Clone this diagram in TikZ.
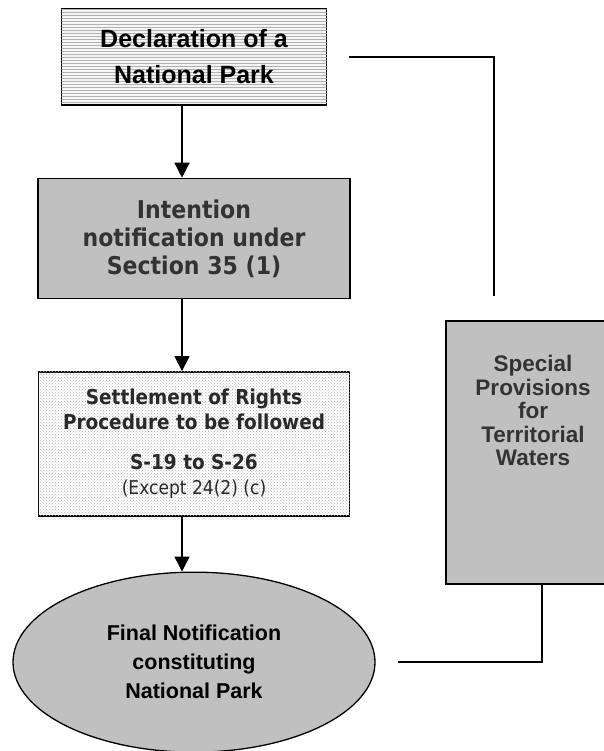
\documentclass[tikz,border=0pt]{standalone}
\usepackage{fontspec}
\newfontfamily\parkfont{Liberation Sans}
\newfontfamily\tahfont[FakeStretch=0.9]{DejaVu Sans}
\usetikzlibrary{positioning,shapes.geometric,patterns,arrows.meta}
\definecolor{boxgrey}{RGB}{192,192,192}
\definecolor{textgrey}{RGB}{51,51,51}

\tikzset{
  stagebox/.style={draw, line width=1.4pt, inner sep=0pt, align=center},
  link/.style={line width=1.4pt},
  flow/.style={link, -{Triangle[width=15pt,length=15pt]}},
}

\begin{document}
\begin{tikzpicture}[x=1pt,y=-1pt]
  \useasboundingbox (0,0) rectangle (603,751);

  % main column
  \node [stagebox, minimum width=265pt, minimum height=96pt, fill=gray!8,
         postaction={pattern=horizontal lines, pattern color=gray!60},
         font=\parkfont\bfseries\fontsize{25}{36}\selectfont]
        (decl) at (194,57) {Declaration of a\\National Park};

  \node [stagebox, minimum width=312pt, minimum height=120pt, fill=boxgrey,
         text=textgrey, font=\tahfont\bfseries\fontsize{24.5}{28}\selectfont,
         below=72pt of decl] (intent) {Intention\\notification under\\Section 35 (1)};

  \node [stagebox, minimum width=311pt, minimum height=144pt, fill=white,
         postaction={pattern=crosshatch dots, pattern color=gray!60},
         text=textgrey!80!black, font=\tahfont\bfseries\fontsize{20.5}{25}\selectfont,
         below=72pt of intent] (rights)
        {Settlement of Rights\\Procedure to be followed\\[15pt]S-19 to S-26\\
         {\mdseries\fontsize{19}{25}\selectfont (Except 24(2) (c)}};

  \node [stagebox, ellipse, line width=1.3pt, minimum width=362pt, minimum height=180pt,
         fill=boxgrey, font=\parkfont\bfseries\fontsize{21.5}{29}\selectfont,
         below=55pt of rights] (final) {Final Notification\\constituting\\National Park};

  % side box
  \node [stagebox, minimum width=174pt, minimum height=263pt, fill=boxgrey]
        (special) at (533,452.5) {};
  \node [align=center, inner sep=0pt, text=textgrey,
         font=\parkfont\bfseries\fontsize{22.5}{23.5}\selectfont]
        (specialtext) at ([yshift=42pt]special.center)
        {Special\\Provisions\\for\\Territorial\\Waters};

  \draw [flow] ([xshift=-12pt]decl.south) -- ([xshift=-12pt]intent.north);
  \draw [flow] ([xshift=-12pt]intent.south) -- ([xshift=-12pt]rights.north);
  \draw [flow] ([xshift=-12pt]rights.south) -- ([xshift=-12pt]final.north);

  \coordinate (sidetop) at ([xshift=-39pt,yshift=24pt]special.north);
  \draw [link] ([xshift=22pt]decl.east) -| (sidetop);
  \draw [link] ([xshift=9pt]special.south) |- ([xshift=22pt]final.east);
\end{tikzpicture}
\end{document}
